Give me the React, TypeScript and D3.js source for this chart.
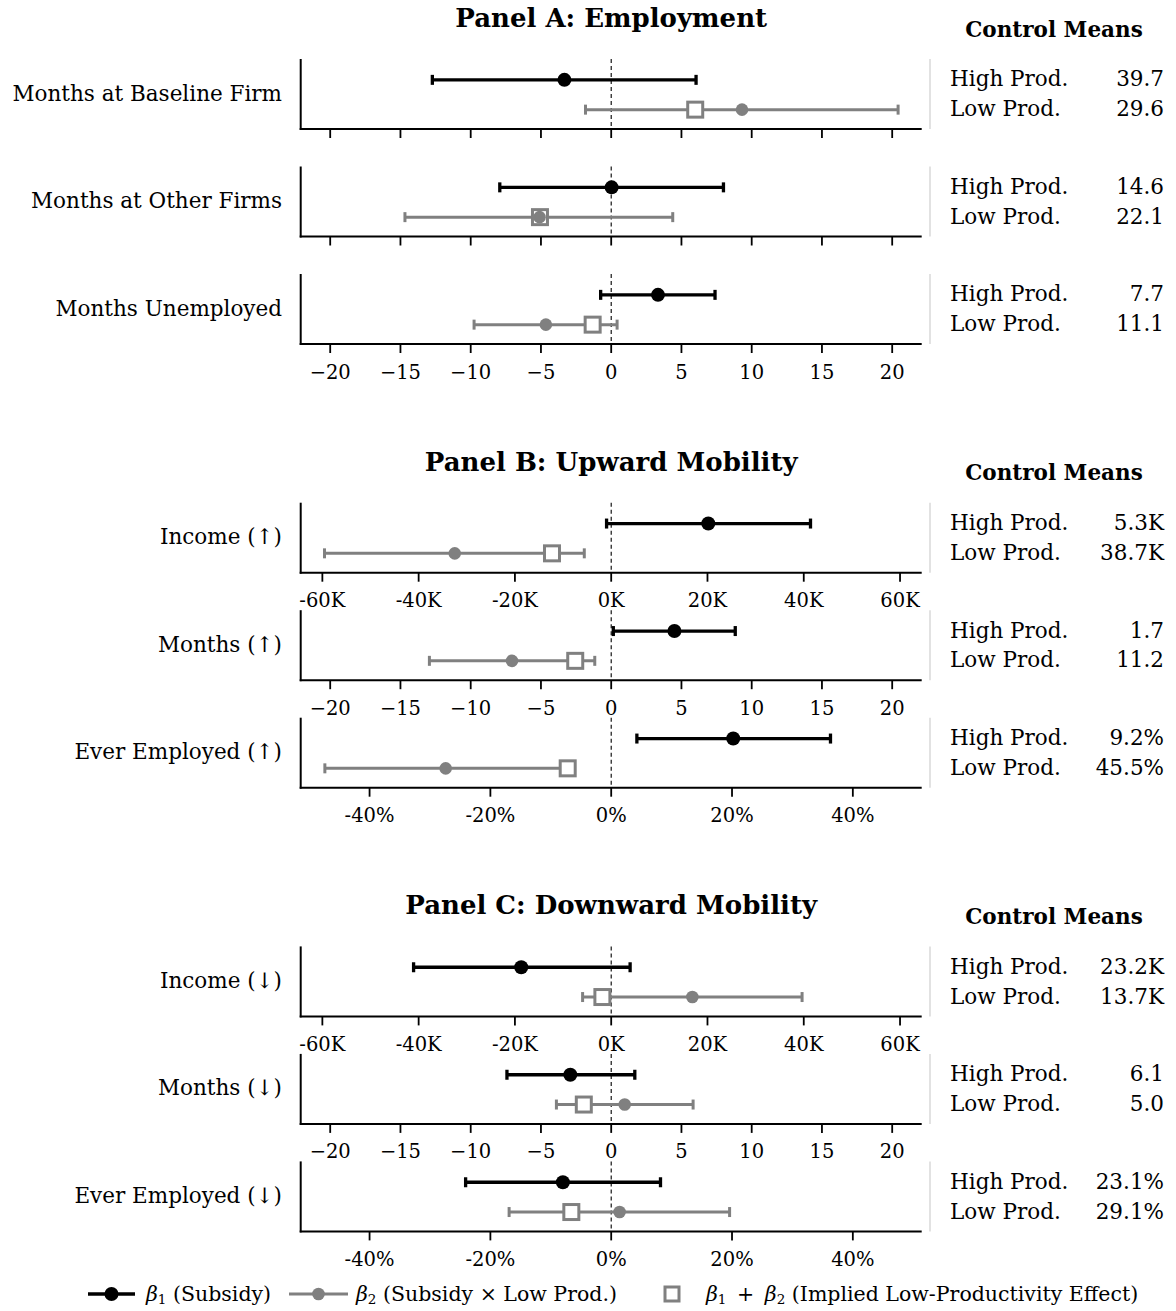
import React, { useEffect, useRef } from 'react';
import * as d3 from 'd3';

// panels and outcomes
const panelTitles = ['Panel A: Employment', 'Panel B: Upward Mobility', 'Panel C: Downward Mobility'];
const outcomeLabels = [
  'Months at Baseline Firm', 'Months at Other Firms', 'Months Unemployed',
  'Income (↑)', 'Months (↑)', 'Ever Employed (↑)',
  'Income (↓)', 'Months (↓)', 'Ever Employed (↓)',
];
const axisTypes = ['months', 'months', 'months', 'income', 'months', 'pct', 'income', 'months', 'pct'];

// beta1 (subsidy)
const b1Est = [-3.33, 0.03, 3.33, 20.17, 4.5, 20.2, -18.69, -2.91, -8.0];
const b1Low = [-12.73, -7.93, -0.75, -0.96, 0.15, 4.25, -41.05, -7.42, -24.1];
const b1High = [6.04, 7.99, 7.39, 41.4, 8.83, 36.3, 3.93, 1.68, 8.16];

// beta2 (subsidy x low prod.)
const b2Est = [9.31, -5.1, -4.65, -32.5, -7.06, -27.4, 16.86, 0.96, 1.39];
const b2Low = [-1.83, -14.68, -9.76, -59.56, -12.94, -47.4, -5.94, -3.9, -16.9];
const b2High = [20.42, 4.38, 0.42, -5.59, -1.17, -7.4, 39.65, 5.83, 19.6];

// beta1 + beta2
const sumEst = [5.98, -5.07, -1.32, -12.3, -2.56, -7.2, -1.83, -1.95, -6.6];

// control means
const highProdMeans = ['39.7', '14.6', '7.7', '5.3K', '1.7', '9.2%', '23.2K', '6.1', '23.1%'];
const lowProdMeans = ['29.6', '22.1', '11.1', '38.7K', '11.2', '45.5%', '13.7K', '5.0', '29.1%'];

// axis ticks
const monthTicks = [-20, -15, -10, -5, 0, 5, 10, 15, 20];
const incomeTicks = [-60, -40, -20, 0, 20, 40, 60];
const pctTicks = [-40, -20, 0, 20, 40];

const W = 1176;
const H = 1311;
const plotLeft = 300.7;
const plotRight = 921.7;
const subH = 70;
const grey = '#808080';
const font = 'DejaVu Serif, Liberation Serif, serif';

const axisConf: Record<string, { lim: number; ticks: number[]; fmt: (d: number) => string }> = {
  months: { lim: 22.1, ticks: monthTicks, fmt: (d) => (d < 0 ? '\u2212' + -d : String(d)) },
  income: { lim: 64.5, ticks: incomeTicks, fmt: (d) => `${d}K` },
  pct: { lim: 51.4, ticks: pctTicks, fmt: (d) => `${d}%` },
};

const App = () => {
  const svgRef = useRef(null);

  useEffect(() => {
    const svg = d3.select(svgRef.current);
    svg.selectAll('*').remove();
    svg.attr('width', W).attr('height', H);

    const firstAxis = 129;
    const panelGap = 443.7;
    const subGap = 107.5;

    panelTitles.forEach((title, p) => {
      const top0 = firstAxis + p * panelGap - subH;
      svg.append('text')
        .attr('x', (plotLeft + plotRight) / 2)
        .attr('y', top0 - 41)
        .attr('text-anchor', 'middle')
        .attr('dominant-baseline', 'central')
        .attr('font-family', font)
        .attr('font-weight', 'bold')
        .attr('font-size', 26)
        .text(title);
      svg.append('text')
        .attr('x', 1054)
        .attr('y', top0 - 30)
        .attr('text-anchor', 'middle')
        .attr('dominant-baseline', 'central')
        .attr('font-family', font)
        .attr('font-weight', 'bold')
        .attr('font-size', 21.5)
        .text('Control Means');
    });

    outcomeLabels.forEach((label, i) => {
      const p = Math.floor(i / 3);
      const k = i % 3;
      const axisY = firstAxis + p * panelGap + k * subGap;
      const top = axisY - subH;
      const conf = axisConf[axisTypes[i]];
      const x = d3.scaleLinear().domain([-conf.lim, conf.lim]).range([plotLeft, plotRight]);
      const y = d3.scaleLinear().domain([-0.65, 1.7]).range([axisY, top]);
      const showLabels = p > 0 || k === 2;

      const g = svg.append('g');

      // zero line
      g.append('line')
        .attr('x1', x(0)).attr('x2', x(0))
        .attr('y1', top).attr('y2', axisY)
        .attr('stroke', '#000').attr('stroke-width', 1.1)
        .attr('stroke-dasharray', '4,3');

      // spines
      g.append('line')
        .attr('x1', plotLeft).attr('x2', plotLeft)
        .attr('y1', top).attr('y2', axisY + 1)
        .attr('stroke', '#000').attr('stroke-width', 2);
      g.append('line')
        .attr('x1', plotLeft - 1).attr('x2', plotRight)
        .attr('y1', axisY).attr('y2', axisY)
        .attr('stroke', '#000').attr('stroke-width', 2);

      conf.ticks.forEach((t) => {
        g.append('line')
          .attr('x1', x(t)).attr('x2', x(t))
          .attr('y1', axisY).attr('y2', axisY + 9)
          .attr('stroke', '#000').attr('stroke-width', 1.8);
        if (showLabels) {
          g.append('text')
            .attr('x', x(t))
            .attr('y', axisY + 28)
            .attr('text-anchor', 'middle')
            .attr('dominant-baseline', 'central')
            .attr('font-family', font)
            .attr('font-size', 19.5)
            .text(conf.fmt(t));
        }
      });

      // outcome label
      g.append('text')
        .attr('x', 282)
        .attr('y', top + 34)
        .attr('text-anchor', 'end')
        .attr('dominant-baseline', 'central')
        .attr('font-family', font)
        .attr('font-size', 21.5)
        .text(label);

      // error bars
      const bars = [
        { lo: b1Low[i], hi: b1High[i], row: 1, color: '#000', w: 3.3 },
        { lo: b2Low[i], hi: b2High[i], row: 0, color: grey, w: 3 },
      ];
      bars.forEach((b) => {
        const yy = y(b.row);
        g.append('line')
          .attr('x1', x(b.lo)).attr('x2', x(b.hi))
          .attr('y1', yy).attr('y2', yy)
          .attr('stroke', b.color).attr('stroke-width', b.w);
        [b.lo, b.hi].forEach((v) => {
          g.append('line')
            .attr('x1', x(v)).attr('x2', x(v))
            .attr('y1', yy - 5).attr('y2', yy + 5)
            .attr('stroke', b.color).attr('stroke-width', b.w);
        });
      });

      // implied effect square
      g.append('rect')
        .attr('x', x(sumEst[i]) - 7.5)
        .attr('y', y(0) - 7.5)
        .attr('width', 15).attr('height', 15)
        .attr('fill', '#fff')
        .attr('stroke', grey).attr('stroke-width', 3);

      // point estimates
      g.append('circle')
        .attr('cx', x(b2Est[i])).attr('cy', y(0)).attr('r', 6.3)
        .attr('fill', grey);
      g.append('circle')
        .attr('cx', x(b1Est[i])).attr('cy', y(1)).attr('r', 7)
        .attr('fill', '#000');

      // control means
      g.append('line')
        .attr('x1', 930).attr('x2', 930)
        .attr('y1', top).attr('y2', axisY)
        .attr('stroke', '#d9d9d9').attr('stroke-width', 1.5);
      [
        { name: 'High Prod.', val: highProdMeans[i], row: 1 },
        { name: 'Low Prod.', val: lowProdMeans[i], row: 0 },
      ].forEach((r) => {
        g.append('text')
          .attr('x', 950).attr('y', y(r.row) - 1)
          .attr('dominant-baseline', 'central')
          .attr('font-family', font).attr('font-size', 21.5)
          .text(r.name);
        g.append('text')
          .attr('x', 1164).attr('y', y(r.row) - 1)
          .attr('text-anchor', 'end')
          .attr('dominant-baseline', 'central')
          .attr('font-family', font).attr('font-size', 21.5)
          .text(r.val);
      });
    });

    // legend
    const ly = 1294;
    const lg = svg.append('g').attr('font-family', font).attr('font-size', 20.5);
    const beta = (x0: number, sub: string) => {
      const t = lg.append('text').attr('x', x0).attr('y', ly).attr('dominant-baseline', 'central');
      t.append('tspan').attr('font-style', 'italic').text('β');
      t.append('tspan').attr('font-size', 13.5).attr('dy', 5).text(sub);
      return t;
    };

    lg.append('line').attr('x1', 88).attr('x2', 135).attr('y1', ly).attr('y2', ly)
      .attr('stroke', '#000').attr('stroke-width', 3.3);
    lg.append('circle').attr('cx', 111.5).attr('cy', ly).attr('r', 7).attr('fill', '#000');
    const t1 = beta(146, '1');
    t1.append('tspan').attr('dy', -5).text(' (Subsidy)');

    lg.append('line').attr('x1', 289).attr('x2', 348).attr('y1', ly).attr('y2', ly)
      .attr('stroke', grey).attr('stroke-width', 3);
    lg.append('circle').attr('cx', 318.5).attr('cy', ly).attr('r', 6.3).attr('fill', grey);
    const t2 = beta(356, '2');
    t2.append('tspan').attr('dy', -5).text(' (Subsidy × Low Prod.)');

    lg.append('rect').attr('x', 665).attr('y', ly - 7).attr('width', 14).attr('height', 14)
      .attr('fill', '#fff').attr('stroke', grey).attr('stroke-width', 3);
    const t3 = beta(706, '1');
    t3.append('tspan').attr('dy', -5).text(' \u2009+\u2009 ');
    t3.append('tspan').attr('font-style', 'italic').text('β');
    t3.append('tspan').attr('font-size', 13.5).attr('dy', 5).text('2');
    t3.append('tspan').attr('dy', -5).text(' (Implied Low-Productivity Effect)');
  }, []);

  return (
    <svg ref={svgRef} style={{ position: 'absolute', left: 0, top: 0, background: '#fff' }}></svg>
  );
};

export default App;
